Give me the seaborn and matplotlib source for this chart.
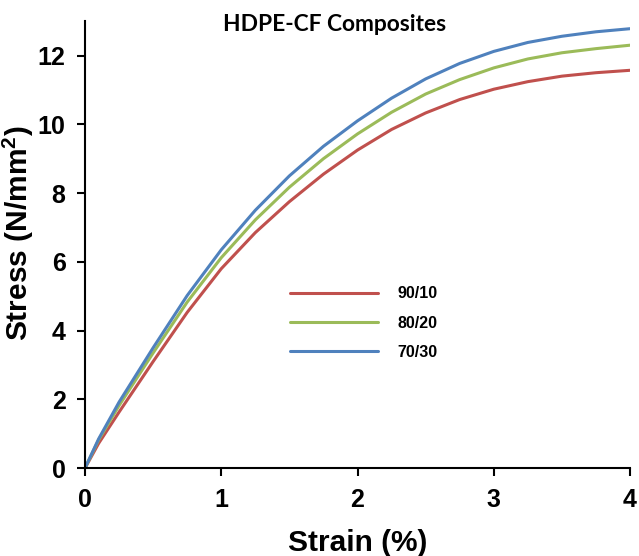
"""Stress-strain curves for HDPE-CF composites."""

import matplotlib

matplotlib.use("Agg")

import matplotlib.pyplot as plt
import pandas as pd
import seaborn as sns


STRAIN = [0.0, 0.1, 0.25, 0.5, 0.75, 1.0, 1.25, 1.5, 1.75, 2.0, 2.25,
          2.5, 2.75, 3.0, 3.25, 3.5, 3.75, 4.0]

STRESS_90_10 = [0.0, 0.72, 1.63, 3.10, 4.53, 5.80, 6.85, 7.75, 8.55, 9.25,
                9.85, 10.33, 10.72, 11.02, 11.24, 11.40, 11.50, 11.57]
STRESS_80_20 = [0.0, 0.82, 1.82, 3.35, 4.83, 6.12, 7.22, 8.17, 9.00, 9.72,
                10.35, 10.88, 11.30, 11.64, 11.90, 12.08, 12.20, 12.30]
STRESS_70_30 = [0.0, 0.85, 1.92, 3.50, 5.02, 6.35, 7.50, 8.50, 9.36, 10.10,
                10.76, 11.32, 11.77, 12.12, 12.38, 12.56, 12.69, 12.78]

SERIES = ["90/10", "80/20", "70/30"]
COLORS = {"90/10": "#C0504D", "80/20": "#9BBB59", "70/30": "#4F81BD"}

X_TICKS = [0, 1, 2, 3, 4]
Y_TICKS = [0, 2, 4, 6, 8, 10, 12]


def build_frame() -> pd.DataFrame:
    frames = []
    for name, values in zip(SERIES, [STRESS_90_10, STRESS_80_20, STRESS_70_30]):
        frames.append(pd.DataFrame({"strain": STRAIN, "stress": values, "blend": name}))
    return pd.concat(frames, ignore_index=True)


def main() -> None:
    sns.set_style("ticks")
    plt.rcParams["font.family"] = ["Liberation Sans", "DejaVu Sans"]
    plt.rcParams["mathtext.fontset"] = "custom"
    plt.rcParams["mathtext.bf"] = "Liberation Sans:bold"
    plt.rcParams["text.color"] = "black"
    plt.rcParams["axes.labelcolor"] = "black"
    plt.rcParams["xtick.color"] = "black"
    plt.rcParams["ytick.color"] = "black"

    data = build_frame()
    fig = plt.figure(figsize=(6.39, 5.56), dpi=100)
    ax = fig.add_axes([0.133, 0.158, 0.853, 0.804])

    sns.lineplot(
        data=data,
        x="strain",
        y="stress",
        hue="blend",
        hue_order=SERIES,
        palette=COLORS,
        linewidth=2.2,
        ax=ax,
    )

    ax.set_xlim(0, 4)
    ax.set_ylim(0, 13)
    ax.set_xticks(X_TICKS)
    ax.set_yticks(Y_TICKS)
    ax.tick_params(direction="out", length=6, width=1.5, labelsize=18, pad=8)
    for label in ax.get_xticklabels() + ax.get_yticklabels():
        label.set_fontweight("bold")
    for side in ["left", "bottom"]:
        ax.spines[side].set_linewidth(1.5)
        ax.spines[side].set_color("black")
    sns.despine(ax=ax)

    ax.set_xlabel("Strain (%)", fontsize=21.5, fontweight="bold")
    ax.set_ylabel(r"Stress (N/mm$^{\mathbf{2}}$)", fontsize=21.5, fontweight="bold")
    ax.xaxis.set_label_coords(0.5, -0.137)
    ax.yaxis.set_label_coords(-0.09, 0.525)

    handles, labels = ax.get_legend_handles_labels()
    ax.legend(
        handles,
        labels,
        loc="center left",
        bbox_to_anchor=(0.454, 0.419),
        bbox_transform=fig.transFigure,
        frameon=False,
        borderpad=0,
        borderaxespad=0,
        handlelength=5.5,
        handletextpad=1.2,
        labelspacing=0.9,
        prop={"weight": "bold", "size": 11.5},
    )

    fig.text(
        0.524,
        0.944,
        "HDPE-CF Composites",
        ha="center",
        va="baseline",
        fontsize=16.4,
        fontweight="bold",
        family=["Lato", "DejaVu Sans"],
    )

    fig.savefig("out.png", dpi=100)
    plt.close(fig)


if __name__ == "__main__":
    main()
